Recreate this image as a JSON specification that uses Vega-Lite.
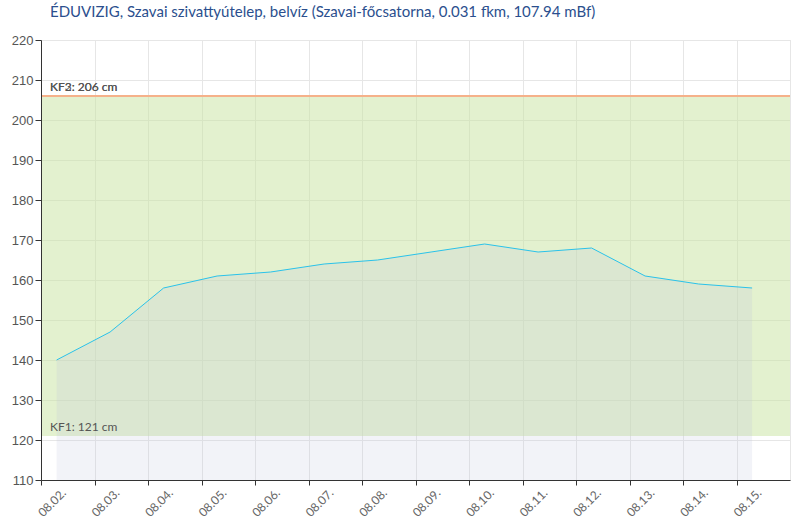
{
  "$schema": "https://vega.github.io/schema/vega-lite/v6.json",
  "width": 749,
  "height": 440,
  "autosize": {"type": "none"},
  "padding": {"left": 41, "top": 40, "right": 10, "bottom": 40},
  "background": "white",
  "title": {
    "text": "ÉDUVIZIG, Szavai szivattyútelep, belvíz (Szavai-főcsatorna, 0.031 fkm, 107.94 mBf)",
    "anchor": "start",
    "frame": "group",
    "dx": 9,
    "offset": 14,
    "font": "Lato",
    "fontSize": 15,
    "fontWeight": "normal",
    "color": "#2b4f8e"
  },
  "datasets": {
    "level": [
      {"date": "2024-08-02T07:00:00", "value": 140},
      {"date": "2024-08-03T07:00:00", "value": 147},
      {"date": "2024-08-04T07:00:00", "value": 158},
      {"date": "2024-08-05T07:00:00", "value": 161},
      {"date": "2024-08-06T07:00:00", "value": 162},
      {"date": "2024-08-07T07:00:00", "value": 164},
      {"date": "2024-08-08T07:00:00", "value": 165},
      {"date": "2024-08-09T07:00:00", "value": 167},
      {"date": "2024-08-10T07:00:00", "value": 169},
      {"date": "2024-08-11T07:00:00", "value": 167},
      {"date": "2024-08-12T07:00:00", "value": 168},
      {"date": "2024-08-13T07:00:00", "value": 161},
      {"date": "2024-08-14T07:00:00", "value": 159},
      {"date": "2024-08-15T07:00:00", "value": 158}
    ],
    "thresholds": [
      {"name": "KF1", "value": 121, "label": "KF1: 121 cm"},
      {"name": "KF2", "value": 206, "label": "KF2: 206 cm"},
      {"name": "KF3", "value": 206, "label": "KF3: 206 cm"}
    ],
    "band": [{"value": 206, "low": 121}]
  },
  "encoding": {
    "y": {
      "field": "value",
      "type": "quantitative",
      "scale": {"domain": [110, 220], "nice": false, "zero": false},
      "axis": null
    }
  },
  "resolve": {"axis": {"x": "independent", "y": "independent"}},
  "layer": [
    {
      "data": {"name": "band"},
      "mark": {"type": "rect", "color": "#c8e3a0", "opacity": 0.5},
      "encoding": {
        "y": {
          "field": "value",
          "type": "quantitative",
          "axis": {
            "orient": "left",
            "values": [110, 120, 130, 140, 150, 160, 170, 180, 190, 200, 210, 220],
            "title": null,
            "grid": true,
            "gridColor": "#e6e6e6",
            "domain": false,
            "ticks": false,
            "labels": false
          }
        },
        "y2": {"field": "low"}
      }
    },
    {
      "data": {"name": "level"},
      "mark": {"type": "area", "color": "#bec3dc", "opacity": 0.2},
      "encoding": {
        "x": {
          "field": "date",
          "type": "temporal",
          "scale": {
            "domain": [
              {"year": 2024, "month": 8, "date": 2, "hours": 0},
              {"year": 2024, "month": 8, "date": 16, "hours": 0}
            ]
          },
          "axis": {
            "orient": "bottom",
            "tickCount": {"interval": "day", "step": 1},
            "title": null,
            "grid": true,
            "gridColor": "#e6e6e6",
            "domain": false,
            "ticks": false,
            "labels": false
          }
        },
        "y2": {"datum": 110}
      }
    },
    {
      "data": {"name": "level"},
      "mark": {"type": "line", "color": "#2ac2ea", "strokeWidth": 1},
      "encoding": {
        "x": {
          "field": "date",
          "type": "temporal",
          "axis": {
            "orient": "bottom",
            "values": [
              {"year": 2024, "month": 8, "date": 2},
              {"year": 2024, "month": 8, "date": 3},
              {"year": 2024, "month": 8, "date": 4},
              {"year": 2024, "month": 8, "date": 5},
              {"year": 2024, "month": 8, "date": 6},
              {"year": 2024, "month": 8, "date": 7},
              {"year": 2024, "month": 8, "date": 8},
              {"year": 2024, "month": 8, "date": 9},
              {"year": 2024, "month": 8, "date": 10},
              {"year": 2024, "month": 8, "date": 11},
              {"year": 2024, "month": 8, "date": 12},
              {"year": 2024, "month": 8, "date": 13},
              {"year": 2024, "month": 8, "date": 14},
              {"year": 2024, "month": 8, "date": 15}
            ],
            "format": "%m.%d.",
            "labelOverlap": false,
            "title": null,
            "labelAngle": -45,
            "labelOffset": 19,
            "labelPadding": 2,
            "grid": false,
            "zindex": 1,
            "domainColor": "#333333",
            "tickColor": "#333333",
            "tickSize": 5,
            "labelFont": "Lato",
            "labelFontSize": 12,
            "labelColor": "#666666"
          }
        },
        "y": {
          "field": "value",
          "type": "quantitative",
          "axis": {
            "orient": "left",
            "values": [110, 120, 130, 140, 150, 160, 170, 180, 190, 200, 210, 220],
            "labelOverlap": false,
            "title": null,
            "grid": false,
            "zindex": 1,
            "domainColor": "#333333",
            "tickColor": "#333333",
            "tickSize": 6,
            "labelPadding": 2,
            "labelFont": "Liberation Sans",
            "labelFontSize": 13,
            "labelColor": "#555555"
          }
        }
      }
    },
    {
      "data": {"name": "thresholds"},
      "transform": [{"filter": "datum.name === 'KF2'"}],
      "mark": {"type": "rule", "color": "#f5b18a", "strokeWidth": 2},
      "encoding": {
        "y": {"field": "value", "type": "quantitative", "axis": null}
      }
    },
    {
      "data": {"name": "thresholds"},
      "mark": {
        "type": "text",
        "align": "left",
        "baseline": "alphabetic",
        "dx": 9,
        "dy": -5,
        "font": "Lato",
        "fontSize": 12,
        "color": "#555555"
      },
      "encoding": {
        "x": {"datum": {"year": 2024, "month": 8, "date": 2, "hours": 0}, "type": "temporal", "axis": null},
        "y": {"field": "value", "type": "quantitative", "axis": null},
        "text": {"field": "label"}
      }
    }
  ]
}
